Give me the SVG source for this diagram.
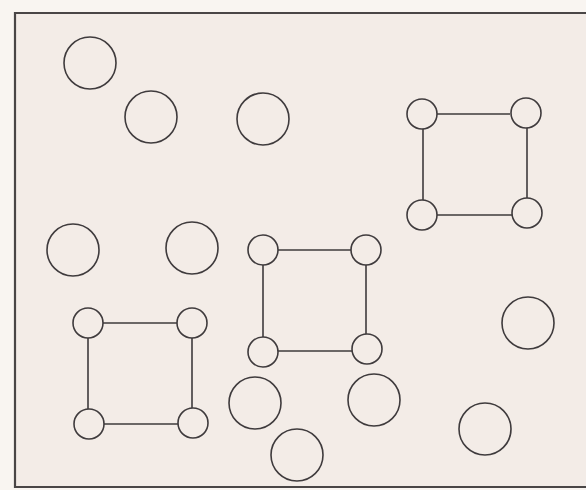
<svg xmlns="http://www.w3.org/2000/svg" width="586" height="490" viewBox="0 0 586 490">
<style>
.bg{fill:#f9f5f1}
.panel{fill:#f3ece7}
.frame{fill:none;stroke:#4a4646;stroke-width:2.2}
.big{fill:none;stroke:#3f3b3d;stroke-width:1.6}
.small{fill:none;stroke:#3f3b3d;stroke-width:1.6}
.edge{stroke:#3f3b3d;stroke-width:1.6;fill:none}
</style>
<rect class="bg" x="0" y="0" width="586" height="490"/>
<rect class="panel" x="15" y="13" width="571" height="474"/>
<path class="frame" d="M586,13 H15 V487 H586"/>
<g id="free-circles">
<circle id="c1" class="big" cx="90" cy="63" r="26"/>
<circle id="c2" class="big" cx="151" cy="117" r="26"/>
<circle id="c3" class="big" cx="263" cy="119" r="26"/>
<circle id="c4" class="big" cx="73" cy="250" r="26"/>
<circle id="c5" class="big" cx="192" cy="248" r="26"/>
<circle id="c6" class="big" cx="255" cy="403" r="26"/>
<circle id="c7" class="big" cx="297" cy="455" r="26"/>
<circle id="c8" class="big" cx="374" cy="400" r="26"/>
<circle id="c9" class="big" cx="528" cy="323" r="26"/>
<circle id="c10" class="big" cx="485" cy="429" r="26"/>
</g>
<g id="connectors">
<path class="edge" d="M437,114 H510 M423,129 V200 M527,128 V198 M437,215 H512"/>
<path class="edge" d="M278,250 H351 M263,265 V337 M366,265 V334 M278,351 H352"/>
<path class="edge" d="M103,323 H177 M88,338 V409 M192,338 V408 M104,424 H178"/>
</g>
<g id="squareA">
<circle class="small" cx="422" cy="114" r="15"/>
<circle class="small" cx="526" cy="113" r="15"/>
<circle class="small" cx="422" cy="215" r="15"/>
<circle class="small" cx="527" cy="213" r="15"/>
</g>
<g id="squareB">
<circle class="small" cx="263" cy="250" r="15"/>
<circle class="small" cx="366" cy="250" r="15"/>
<circle class="small" cx="263" cy="352" r="15"/>
<circle class="small" cx="367" cy="349" r="15"/>
</g>
<g id="squareC">
<circle class="small" cx="88" cy="323" r="15"/>
<circle class="small" cx="192" cy="323" r="15"/>
<circle class="small" cx="89" cy="424" r="15"/>
<circle class="small" cx="193" cy="423" r="15"/>
</g>
</svg>
